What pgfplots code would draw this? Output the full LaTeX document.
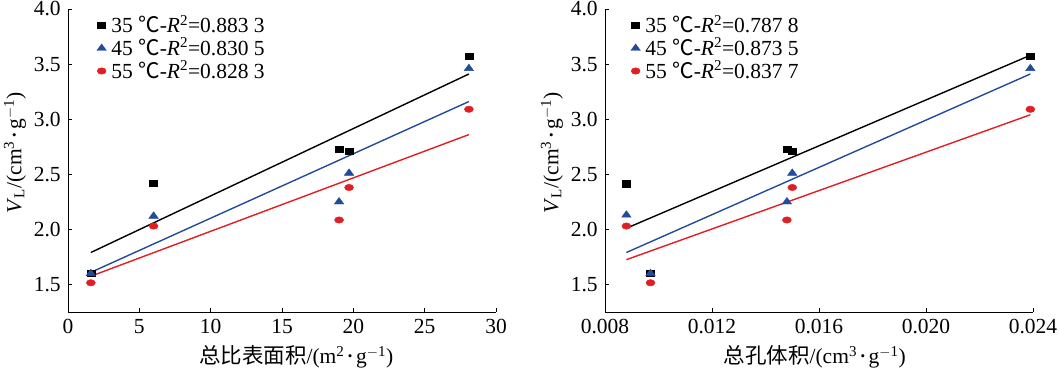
\documentclass[border=0pt]{standalone}
\usepackage{fontspec}
\setmainfont{Liberation Serif}
\newfontfamily\cjk{Noto Sans CJK SC}
\usepackage{pgfplots}
\pgfplotsset{compat=1.18}
\definecolor{cblue}{RGB}{35,75,155}
\definecolor{cred}{RGB}{225,30,35}
\newcommand{\cd}{\,\raisebox{0.28ex}{\scalebox{0.6}{\textbullet}}\,}
\newcommand{\degc}{{\cjk ℃}}
\pgfplotsset{
  common/.style={
    scale only axis, width=428pt, height=303pt,
    axis lines*=left, axis line style={-, line width=0.8pt},
    tick align=inside, major tick length=4pt, tick style={line width=0.8pt, black},
    ymin=1.25, ymax=4.0, ytick={1.5,2.0,2.5,3.0,3.5,4.0},
    /pgf/number format/assume math mode=true,
    yticklabel style={/pgf/number format/.cd, fixed, fixed zerofill, precision=1},
    ylabel={\textit{V}\textsubscript{L}/(cm\textsuperscript{3}\cd g\textsuperscript{$-$1})},
    ylabel style={at={(axis description cs:-0.124,0.525)}, anchor=center, rotate=0},
    legend cell align=left,
    legend style={draw=none, fill=none, anchor=north west, row sep=0pt,
      nodes={inner sep=1pt}, font=\fontsize{21.5}{23}\selectfont,
      /tikz/every odd column/.append style={column sep=4pt}},
    legend image code/.code={\draw[#1] plot coordinates {(0.1cm,0cm)};},
  },
  msq/.style={only marks, mark=square*, color=black, mark size=4pt, mark options={yscale=0.78}},
  mtr/.style={only marks, mark=triangle*, color=cblue, mark size=5.5pt, mark options={yscale=0.8}},
  mci/.style={only marks, mark=*, color=cred, mark size=4.5pt, mark options={yscale=0.72}},
  fl/.style={line width=1.4pt, no marks, forget plot},
}
\begin{document}
\fontsize{21.5}{24}\selectfont
\begin{tikzpicture}
\useasboundingbox (0pt,0pt) rectangle (1059pt,371pt);
\begin{axis}[common, at={(68pt,59pt)}, anchor=south west,
  xmin=0, xmax=30, xtick={0,5,...,30},
  xlabel={{\cjk 总比表面积}/(m\textsuperscript{2}\cd g\textsuperscript{$-$1})},
  xlabel style={at={(axis description cs:0.533,-0.148)}, anchor=center},
  legend style={at={(axis description cs:0.06,0.99)}},
]
\addplot[fl, black] coordinates {(1.6,1.79) (28.1,3.41)};
\addplot[fl, cblue] coordinates {(1.6,1.61) (28.1,3.16)};
\addplot[fl, cred] coordinates {(1.6,1.575) (28.1,2.86)};
\addplot[msq] coordinates {(1.6,1.60) (6.0,2.42) (19.0,2.73) (19.7,2.71) (28.1,3.57)};
\addplot[mtr] coordinates {(1.6,1.60) (6.0,2.12) (19.0,2.25) (19.7,2.51) (28.1,3.46)};
\addplot[mci] coordinates {(1.6,1.515) (6.0,2.03) (19.0,2.085) (19.7,2.38) (28.1,3.09)};
\legend{35\ \degc-\textit{R}\textsuperscript{2}=0.883 3, 45\ \degc-\textit{R}\textsuperscript{2}=0.830 5, 55\ \degc-\textit{R}\textsuperscript{2}=0.828 3}
\end{axis}
\begin{axis}[common, at={(605pt,59pt)}, anchor=south west,
  xmin=0.008, xmax=0.024, xtick={0.008,0.012,0.016,0.020,0.024},
  scaled x ticks=false,
  xticklabel style={/pgf/number format/.cd, fixed, fixed zerofill, precision=3},
  xlabel={{\cjk 总孔体积}/(cm\textsuperscript{3}\cd g\textsuperscript{$-$1})},
  xlabel style={at={(axis description cs:0.49,-0.148)}, anchor=center},
  legend style={at={(axis description cs:0.053,0.99)}},
]
\addplot[fl, black] coordinates {(0.0088,2.01) (0.0239,3.58)};
\addplot[fl, cblue] coordinates {(0.0088,1.79) (0.0239,3.41)};
\addplot[fl, cred] coordinates {(0.0088,1.725) (0.0239,3.04)};
\addplot[msq] coordinates {(0.0097,1.60) (0.0088,2.415) (0.0148,2.73) (0.0150,2.71) (0.0239,3.57)};
\addplot[mtr] coordinates {(0.0097,1.60) (0.0088,2.13) (0.0148,2.25) (0.0150,2.51) (0.0239,3.46)};
\addplot[mci] coordinates {(0.0097,1.515) (0.0088,2.03) (0.0148,2.085) (0.0150,2.38) (0.0239,3.09)};
\legend{35\ \degc-\textit{R}\textsuperscript{2}=0.787 8, 45\ \degc-\textit{R}\textsuperscript{2}=0.873 5, 55\ \degc-\textit{R}\textsuperscript{2}=0.837 7}
\end{axis}
\end{tikzpicture}
\end{document}
